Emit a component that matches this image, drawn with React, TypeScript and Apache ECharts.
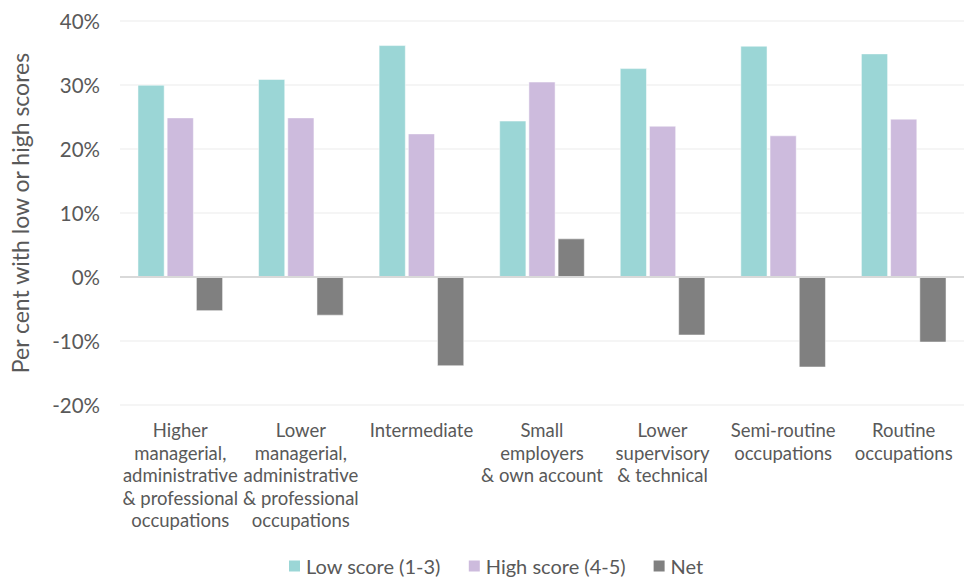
import React, { useEffect, useRef } from "react";
import * as echarts from "echarts";

const categories = [
  "Higher\nmanagerial,\nadministrative\n& professional\noccupations",
  "Lower\nmanagerial,\nadministrative\n& professional\noccupations",
  "Intermediate",
  "Small\nemployers\n& own account",
  "Lower\nsupervisory\n& technical",
  "Semi-routine\noccupations",
  "Routine\noccupations",
];
const lowScore = [30.0, 30.9, 36.2, 24.4, 32.6, 36.1, 34.9];
const highScore = [24.9, 24.9, 22.4, 30.5, 23.6, 22.1, 24.7];
const net = [-5.3, -6.0, -13.9, 6.0, -9.1, -14.1, -10.2];
const seriesNames = ["Low score (1-3)", "High score (4-5)", "Net"];
const colors = ["#9bd6d6", "#cdbbdd", "#808080"];

const FONT = "Lato, 'Noto Sans', sans-serif";
const TEXT = "#595959";

export default function App() {
  const ref = useRef<HTMLDivElement>(null);

  useEffect(() => {
    if (!ref.current) return;
    const chart = echarts.init(ref.current, null, { renderer: "svg" });
    const values = [lowScore, highScore, net];
    chart.setOption({
      animation: false,
      textStyle: { fontFamily: FONT, color: TEXT },
      grid: { left: 111, right: -10, top: 21, bottom: 172, containLabel: false },
      legend: {
        bottom: -4,
        left: 282,
        itemWidth: 13,
        itemHeight: 13,
        itemGap: 26,
        icon: "rect",
        textStyle: { fontFamily: FONT, fontSize: 20, color: TEXT },
        data: seriesNames,
      },
      xAxis: {
        type: "category",
        data: categories,
        axisLine: { show: false },
        axisTick: { show: false },
        axisLabel: {
          interval: 0,
          margin: 14,
          fontSize: 18.5,
          lineHeight: 22.5,
          color: TEXT,
          fontFamily: FONT,
        },
      },
      yAxis: {
        type: "value",
        min: -20,
        max: 40,
        interval: 10,
        name: "Per cent with low or high scores",
        nameLocation: "middle",
        nameGap: 89,
        nameRotate: 90,
        nameTextStyle: { fontSize: 23, color: TEXT, fontFamily: FONT },
        axisLine: { show: false },
        axisTick: { show: false },
        axisLabel: {
          formatter: "{value}%",
          fontSize: 20.5,
          margin: 20,
          color: TEXT,
          fontFamily: FONT,
        },
        splitLine: { lineStyle: { color: "#f2f2f2", width: 1.5 } },
      },
      series: seriesNames.map((name, i) => ({
        name,
        type: "bar",
        data: values[i],
        barWidth: 26.7,
        barGap: "9.4%",
        itemStyle: { color: colors[i], borderColor: "#ffffff", borderWidth: 0.5 },
        markLine:
          i === 0
            ? {
                silent: true,
                symbol: "none",
                label: { show: false },
                lineStyle: { color: "#d9d9d9", width: 2, type: "solid" },
                data: [{ yAxis: 0 }],
              }
            : undefined,
      })),
    });
    return () => chart.dispose();
  }, []);

  return (
    <div
      ref={ref}
      style={{ position: "absolute", left: 0, top: 0, width: 964, height: 577 }}
    />
  );
}
